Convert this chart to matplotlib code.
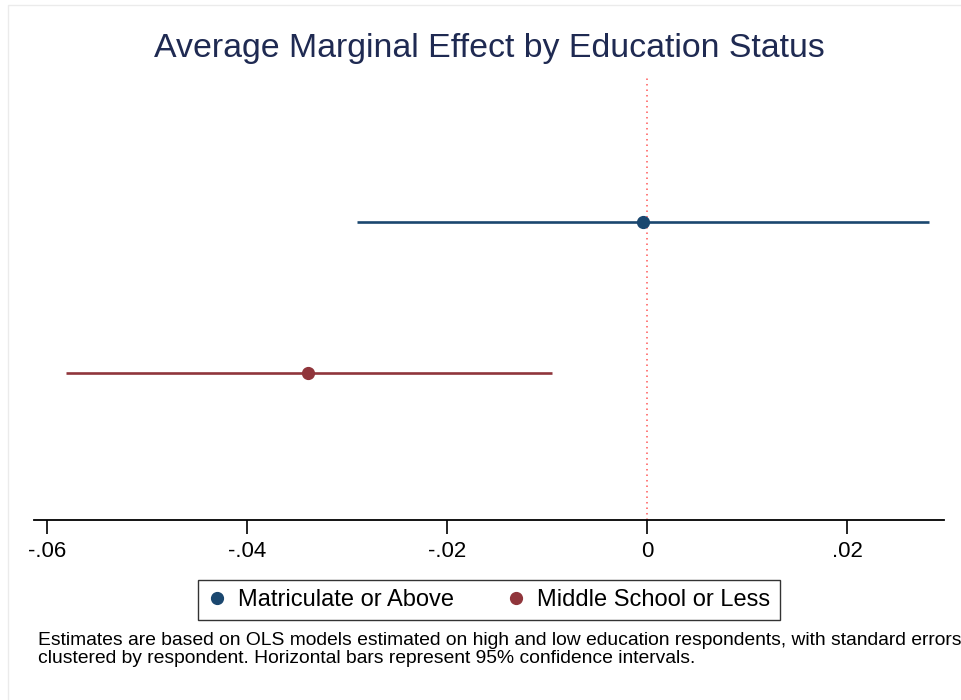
import matplotlib
matplotlib.use("Agg")
import matplotlib.pyplot as plt
from matplotlib.patches import Rectangle
from matplotlib.lines import Line2D

plt.rcParams['font.family'] = ['Liberation Sans', 'DejaVu Sans']

groups = ["Matriculate or Above", "Middle School or Less"]
estimates = [-0.0004, -0.0339]
ci_low = [-0.0290, -0.0581]
ci_high = [0.0282, -0.0095]
colors = ["#1a476f", "#90353b"]
xticks = [-0.06, -0.04, -0.02, 0.0, 0.02]
xtick_labels = ["-.06", "-.04", "-.02", "0", ".02"]

W, H = 961, 700
fig = plt.figure(figsize=(W / 100, H / 100), dpi=100)

# faint outer frame of the graph region
fig.patches.append(Rectangle((8 / W, -0.1), 1.2, 1 - 5 / H + 0.1,
                             transform=fig.transFigure, fill=False,
                             edgecolor="#ebebeb", lw=1.0))

ax = fig.add_axes([34 / W, (H - 520) / H, (944 - 34) / W, (520 - 75) / H])

ax.axvline(0, color="#ff5a5a", lw=1.1, ls=(0, (1, 2.6)), zorder=1)

for i, (g, est, lo, hi, c) in enumerate(zip(groups, estimates, ci_low, ci_high, colors)):
    y = i + 1
    ax.plot([lo, hi], [y, y], color=c, lw=1.9, solid_capstyle="butt", zorder=2)
    ax.plot([est], [y], "o", color=c, markersize=8.5, zorder=3)

ax.set_xlim(-0.0613, 0.0297)
ax.set_ylim(2.974, 0.026)
ax.set_xticks(xticks)
ax.set_xticklabels(xtick_labels, fontsize=16)
ax.set_yticks([])
for s in ["top", "right", "left"]:
    ax.spines[s].set_visible(False)
ax.spines["bottom"].set_linewidth(1.3)
ax.tick_params(axis="x", direction="out", length=10, width=1.2, pad=5)

fig.text(489 / W, 1 - 48 / H, "Average Marginal Effect by Education Status",
         ha="center", va="center", fontsize=24.4, color="#1f2a52")

handles = [Line2D([], [], ls="none", marker="o", color=c, markersize=8.5) for c in colors]
leg = fig.legend(handles, groups, loc="center", bbox_to_anchor=(489 / W, 1 - 600 / H),
                 ncol=2, fontsize=17, frameon=True, fancybox=False,
                 edgecolor="black", handlelength=0.8, handletextpad=0.5,
                 columnspacing=2.2, borderpad=0.4)
leg.get_frame().set_linewidth(1.0)

fig.text(38 / W, 1 - 632 / H,
         "Estimates are based on OLS models estimated on high and low education respondents, with standard errors\n"
         "clustered by respondent. Horizontal bars represent 95% confidence intervals.",
         ha="left", va="top", fontsize=13.9, color="black", linespacing=1.08)

fig.savefig("out.png", dpi=100, facecolor="white")
